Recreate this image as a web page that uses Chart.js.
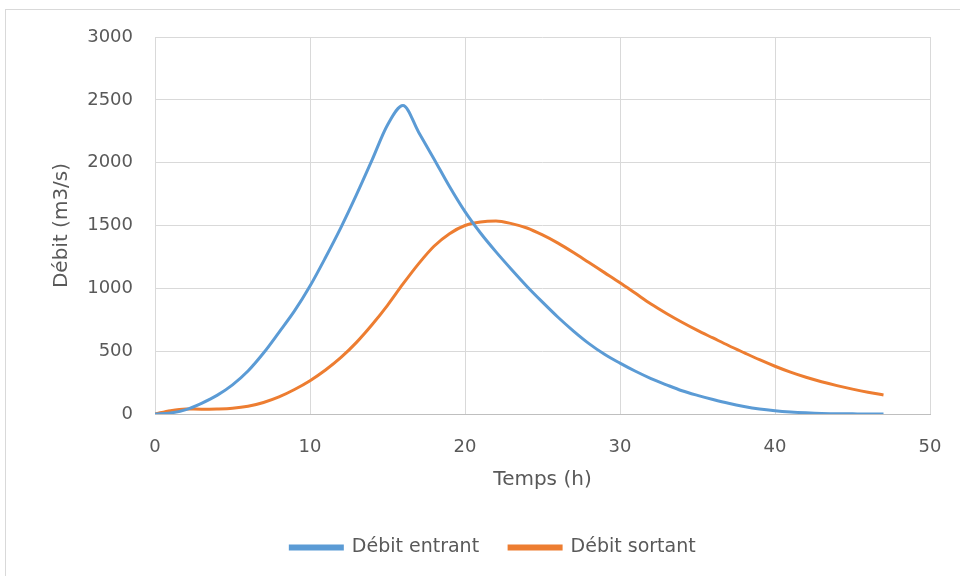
<!DOCTYPE html>
<html>
<head>
<meta charset="utf-8">
<script src="https://cdn.jsdelivr.net/npm/chart.js@4"></script>
<style>
  body { margin: 0; background: #fff; }
  #wrap { position: relative; width: 960px; height: 576px; overflow: hidden; }
  #frame { position: absolute; left: 5px; top: 9px; width: 1000px; height: 600px; border: 1px solid #d9d9d9; }
  #chart { position: absolute; left: 0; top: 0; }
</style>
</head>
<body>
<div id="wrap">
  <div id="frame"></div>
  <canvas id="chart" width="960" height="576"></canvas>
</div>
<script>
// temps (h)
const hours = [0,1,2,3,4,5,6,7,8,9,10,11,12,13,14,15,16,17,18,19,20,21,22,23,24,25,26,27,28,29,30,31,32,33,34,35,36,37,38,39,40,41,42,43,44,45,46,47];

// débit entrant (m3/s)
const entrant = [0,8,35,85,148,232,342,485,650,820,1018,1245,1485,1745,2020,2300,2455,2245,2030,1810,1610,1440,1290,1150,1015,890,770,660,560,475,405,340,282,232,185,148,115,85,60,40,26,16,9,4,2,1,0,0];

// débit sortant (m3/s)
const sortant = [0,27,40,38,40,46,62,92,136,195,265,350,450,570,710,865,1035,1195,1335,1435,1500,1528,1535,1515,1480,1425,1360,1285,1205,1125,1045,960,875,800,730,665,605,545,488,432,380,333,292,257,226,198,173,152];

const xTicks = [0, 10, 20, 30, 40, 50];
const yTicks = [0, 500, 1000, 1500, 2000, 2500, 3000];

const blue = "#5b9bd5";
const orange = "#ed7d31";
const textGray = "#595959";
const font = "'DejaVu Sans', sans-serif";

function toPoints(values) {
    return hours.map((h, i) => ({ x: h, y: values[i] }));
}

// the legend sits a little right of the canvas centre, as in the original
const legendShift = {
    id: "legendShift",
    afterLayout(chart) {
        chart.legend.left += 28;
        chart.legend.right += 28;
    }
};

new Chart(document.getElementById("chart"), {
    type: "line",
    data: {
        datasets: [
            {
                label: "Débit entrant",
                data: toPoints(entrant),
                borderColor: blue,
                backgroundColor: blue,
                borderWidth: 3,
                pointRadius: 0,
                cubicInterpolationMode: "monotone"
            },
            {
                label: "Débit sortant",
                data: toPoints(sortant),
                borderColor: orange,
                backgroundColor: orange,
                borderWidth: 3,
                pointRadius: 0,
                cubicInterpolationMode: "monotone"
            }
        ]
    },
    plugins: [legendShift],
    options: {
        responsive: false,
        animation: false,
        layout: { padding: { left: 0, right: 30, top: 37, bottom: 9 } },
        plugins: {
            tooltip: { enabled: false },
            legend: {
                position: "bottom",
                labels: {
                    boxWidth: 52,
                    boxHeight: 3,
                    padding: 30,
                    color: textGray,
                    font: { family: font, size: 19 }
                }
            }
        },
        scales: {
            x: {
                type: "linear",
                min: 0,
                max: 50,
                afterBuildTicks: s => { s.ticks = xTicks.map(v => ({ value: v })); },
                afterFit: s => {
                    s.height = 94;
                    s.paddingLeft = 0;
                    s.paddingRight = 0;
                },
                grid: { color: "#d9d9d9", drawTicks: false },
                border: { color: "#bfbfbf" },
                ticks: {
                    color: textGray,
                    padding: 23,
                    font: { family: font, size: 18 },
                    callback: v => String(v)
                },
                title: {
                    display: true,
                    text: "Temps (h)",
                    color: textGray,
                    padding: { top: 0, bottom: 16 },
                    font: { family: font, size: 20 }
                }
            },
            y: {
                min: 0,
                max: 3000,
                afterBuildTicks: s => { s.ticks = yTicks.map(v => ({ value: v })); },
                afterFit: s => { s.width = 155; },
                grid: { color: "#d9d9d9", drawTicks: false },
                border: { display: false },
                ticks: {
                    color: textGray,
                    padding: 22,
                    font: { family: font, size: 18 },
                    callback: v => String(v)
                },
                title: {
                    display: true,
                    text: "Débit (m3/s)",
                    color: textGray,
                    padding: { top: 50, bottom: 0 },
                    font: { family: font, size: 20 }
                }
            }
        }
    }
});
</script>
</body>
</html>
